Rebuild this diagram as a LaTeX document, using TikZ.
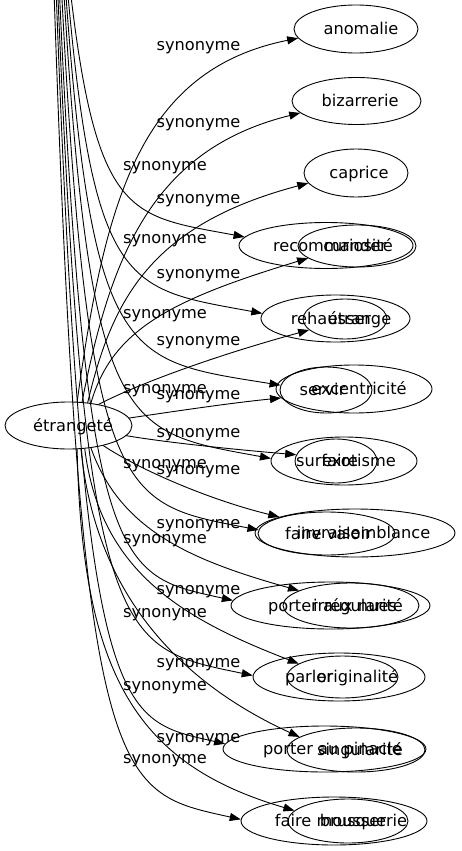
\documentclass[tikz,border=0pt]{standalone}
\usepackage{fontspec}
\setmainfont{DejaVu Sans}
\usetikzlibrary{shapes.geometric, arrows.meta}

\begin{document}
\begin{tikzpicture}[x=1pt, y=-1pt, line cap = round, font=\fontsize{16.2}{19}\selectfont,
	mot/.style={ellipse, draw, line width=0.9pt, inner sep=0pt},
	every label/.style={inner sep=0pt, text height=13pt, text depth=2pt},
	syn/.style={inner sep=0pt, text height=13pt, text depth=2pt},
	lien/.style={line width=0.9pt, -{Triangle[length=11pt, width=8pt]}}]
%		\draw[help lines] (0,0) grid[step=50] (461,851);
		\useasboundingbox (0,0) rectangle (461,851);
		
		\coordinate (t4) at (67,-40);
		\coordinate (t5) at (65,-40);
		\coordinate (t6) at (63.5,-40);
		\coordinate (t7) at (62,-40);
		\coordinate (t8) at (60,-40);
		\coordinate (t9) at (58,-40);
		\coordinate (t10) at (56.5,-40);
		\coordinate (t11) at (55,-40);
		\coordinate (t12) at (53,-40);
		
		\node[mot, minimum width=127pt, minimum height=47pt, label={[xshift=4.5pt]center:étrangeté}] (etr) at (68.5,425.5) {};
		
		\node[mot, minimum width=124pt, minimum height=48pt, label={[xshift=5pt]center:anomalie}] (anom) at (356,29) {};
		\node[mot, minimum width=129pt, minimum height=47pt, label={[xshift=3.5pt]center:bizarrerie}] (biz) at (356.5,101) {};
		\node[mot, minimum width=104pt, minimum height=48pt, label={[xshift=3pt]center:caprice}] (capr) at (356,173) {};
		\node[mot, minimum width=174pt, minimum height=46pt, label={[xshift=4pt]center:recommander}] (recom) at (326,245.5) {};
		\node[mot, minimum width=118pt, minimum height=42pt, label={[xshift=1pt]center:curiosité}] (curio) at (357,246) {};
		\node[mot, minimum width=149pt, minimum height=47pt, label={[xshift=-4.5pt]center:rehausser}] (rehau) at (335.5,318.5) {};
		\node[mot, minimum width=84pt, minimum height=40pt, label={[xshift=14.5pt]center:étrange}] (etrge) at (345,319) {};
		\node[mot, minimum width=156pt, minimum height=48pt, label={[xshift=5pt]center:excentricité}] (excen) at (354,389) {};
		\node[mot, minimum width=92pt, minimum height=46pt, label={[xshift=-3.5pt]center:servir}] (servi) at (326,390) {};
		\node[mot, minimum width=146pt, minimum height=48pt, label={[xshift=-17pt]center:surfaire}] (surfa) at (344,461) {};
		\node[mot, minimum width=82pt, minimum height=44pt, label={[xshift=23pt]center:exotisme}] (exoti) at (336,461) {};
		\node[mot, minimum width=200pt, minimum height=48pt, label={[xshift=8.5pt]center:invraisemblance}] (invra) at (355,533) {};
		\node[mot, minimum width=137pt, minimum height=43pt, label={[xshift=2pt]center:faire valoir}] (valoi) at (326.5,533.5) {};
		\node[mot, minimum width=199pt, minimum height=47pt, label={[xshift=2pt]center:porter aux nues}] (nues) at (330.5,605.5) {};
		\node[mot, minimum width=136pt, minimum height=45pt, label={[xshift=7pt]center:irrégularité}] (irreg) at (351,605.5) {};
		\node[mot, minimum width=172pt, minimum height=48pt, label={[xshift=-30pt]center:parler}] (parle) at (339,677) {};
		\node[mot, minimum width=111pt, minimum height=42pt, label={[xshift=15pt]center:originalité}] (origi) at (342.5,677) {};
		\node[mot, minimum width=203pt, minimum height=46pt, label={[xshift=8pt]center:porter au pinacle}] (pinac) at (324.5,749) {};
		\node[mot, minimum width=138pt, minimum height=44pt, label={[xshift=4pt]center:singularité}] (singu) at (356,750) {};
		\node[mot, minimum width=186pt, minimum height=48pt, label={[xshift=-3.5pt]center:faire mousser}] (mouss) at (334,821) {};
		\node[mot, minimum width=120pt, minimum height=44pt, label={[xshift=15.5pt]center:brusquerie}] (brusq) at (348,821) {};
		
		\draw[lien] (etr.70) .. controls (105,200) and (140,70) .. (anom.189);
		\draw[lien] (etr.60) .. controls (110,260) and (150,150) .. (biz.192);
		\draw[lien] (etr.50) .. controls (112,300) and (150,225) .. (capr.192);
		\draw[lien] (etr.45) .. controls (112,330) and (170,300) .. (curio.194);
		\draw[lien] (etr.35) .. controls (130,388) and (200,360) .. (etrge.197);
		\draw[lien] (etr.7) .. controls (170,412) and (230,403) .. (excen.187);
		\draw[lien] (etr.-10) .. controls (170,443) and (240,450) .. (exoti.171);
		\draw[lien] (etr.-30) .. controls (140,470) and (210,500) .. (invra.168);
		\draw[lien] (etr.-45) .. controls (120,530) and (190,560) .. (irreg.164);
		\draw[lien] (etr.-55) .. controls (100,570) and (180,618) .. (origi.163);
		\draw[lien] (etr.-62) .. controls (95,590) and (175,680) .. (singu.167);
		\draw[lien] (etr.-70) .. controls (82,680) and (140,765) .. (brusq.169);
		
		\draw[lien] (t4) .. controls (94,220) and (127,215) .. (recom.174);
		\draw[lien] (t5) .. controls (92,293) and (125,288) .. (rehau.176);
		\draw[lien] (t6) .. controls (90.5,365) and (123.5,360) .. (servi.174);
		\draw[lien] (t7) .. controls (89,436) and (122,431) .. (surfa.178);
		\draw[lien] (t8) .. controls (87,508) and (120,503) .. (valoi.177);
		\draw[lien] (t9) .. controls (85,580) and (118,575) .. (nues.177);
		\draw[lien] (t10) .. controls (83.5,652) and (116.5,647) .. (parle.179);
		\draw[lien] (t11) .. controls (82,724) and (115,719) .. (pinac.177);
		\draw[lien] (t12) .. controls (80,796) and (113,791) .. (mouss.179);
		
		\node[syn] (lanom) at (198.5,45) {synonyme};
		\node[syn] (lbiz) at (198.5,122) {synonyme};
		\node[syn] (lcapr) at (198.5,198) {synonyme};
		\node[syn] (lcurio) at (198.5,273) {synonyme};
		\node[syn] (letrge) at (198.5,340) {synonyme};
		\node[syn] (lexcen) at (198.5,394) {synonyme};
		\node[syn] (lexoti) at (198.5,432) {synonyme};
		\node[syn] (linvra) at (198.5,469) {synonyme};
		\node[syn] (lirreg) at (198.5,523) {synonyme};
		\node[syn] (lorigi) at (198.5,589) {synonyme};
		\node[syn] (lsingu) at (198.5,662) {synonyme};
		\node[syn] (lbrusq) at (198.5,737) {synonyme};
		
		\node[syn] (lrecom) at (165,165) {synonyme};
		\node[syn] (lrehau) at (165,238) {synonyme};
		\node[syn] (lservi) at (165,313) {synonyme};
		\node[syn] (lsurfa) at (165,388) {synonyme};
		\node[syn] (lvaloi) at (165,463) {synonyme};
		\node[syn] (lnues) at (165,538) {synonyme};
		\node[syn] (lparle) at (165,612) {synonyme};
		\node[syn] (lpinac) at (165,685) {synonyme};
		\node[syn] (lmouss) at (165,758) {synonyme};
	\end{tikzpicture}
\end{document}
